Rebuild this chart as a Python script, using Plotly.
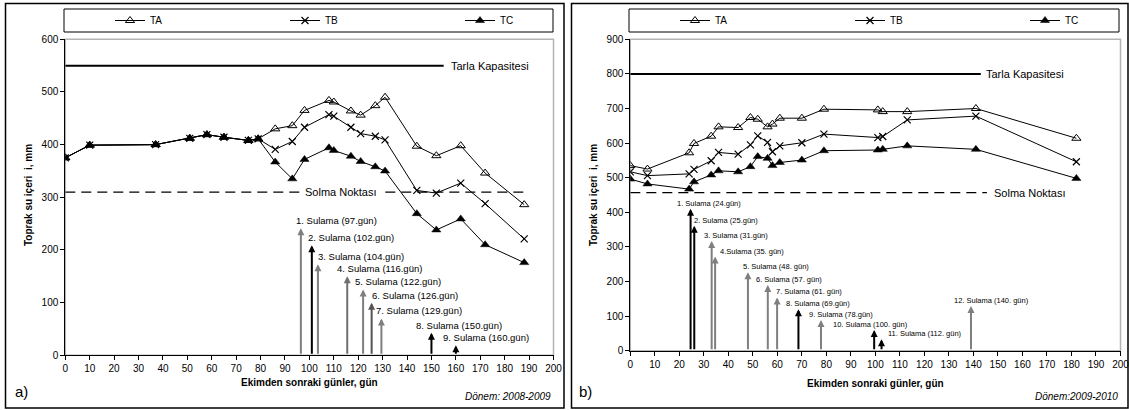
import plotly.graph_objects as go

W, H = 1129, 410

# ---------------- data: panel a) 2008-2009 ----------------
days_a = [0, 10, 37, 51, 58, 65, 75, 79, 86, 93, 98, 108, 110, 117, 121, 127, 131, 144, 152, 162, 172, 188]
ta_a = [375, 399, 400, 412, 419, 414, 408, 411, 430, 436, 465, 484, 481, 464, 456, 474, 490, 397, 379, 398, 346, 286]
tb_a = [375, 399, 400, 412, 419, 414, 408, 411, 391, 406, 433, 457, 454, 433, 421, 416, 409, 313, 308, 327, 288, 221]
tc_a = [375, 399, 400, 412, 419, 414, 408, 411, 367, 335, 372, 394, 389, 378, 368, 358, 350, 269, 238, 259, 210, 176]
tk_a_days = [0, 155]
tk_a = [550, 550]
sn_a_days = [0, 188]
sn_a = [310, 310]
irr_a_days = [96.5, 101, 103.5, 115.5, 122, 125.5, 129.5, 150, 160]
irr_a_top = [241, 209, 173, 150, 125, 100, 70, 43, 19]
irr_a_labels = ["1. Sulama (97.gün)", "2. Sulama (102.gün)", "3. Sulama (104.gün)",
                "4. Sulama (116.gün)", "5. Sulama (122.gün)", "6. Sulama (126.gün)",
                "7. Sulama (129.gün)", "8. Sulama (150.gün)", "9. Sulama (160.gün)"]

# ---------------- data: panel b) 2009-2010 ----------------
days_b = [0, 7, 24, 26, 33, 36, 44, 49, 52, 56, 58, 61, 70, 79, 101, 103, 113, 141, 182]
ta_b = [535, 525, 572, 599, 620, 647, 645, 674, 669, 647, 655, 672, 672, 698, 696, 691, 691, 700, 614]
tb_b = [517, 506, 511, 524, 549, 573, 568, 595, 621, 602, 575, 592, 601, 626, 616, 619, 667, 678, 546]
tc_b = [496, 482, 467, 488, 508, 520, 517, 532, 561, 556, 535, 544, 551, 578, 580, 582, 592, 582, 498]
tk_b_days = [0, 143]
tk_b = [800, 800]
sn_b_days = [0, 145.5]
sn_b = [457, 457]
irr_b_days = [24.6, 26.1, 33.2, 34.6, 48, 56.1, 59.9, 68.6, 77.8, 99.5, 102.5, 139]
irr_b_top = [410, 361, 317, 272, 227, 190, 154, 120, 89, 60, 33, 129]
irr_b_labels = ["1. Sulama (24.gün)", "2. Sulama (25.gün)", "3. Sulama (31.gün)", "4.Sulama (35. gün)",
                "5. Sulama (48. gün)", "6. Sulama (57. gün)", "7. Sulama (61. gün)", "8. Sulama (69.gün)",
                "9. Sulama (78.gün)", "10. Sulama (100. gün)", "11. Sulama (112. gün)", "12. Sulama (140. gün)"]

series_names = ["TA", "TB", "TC"]
x_ticks = list(range(0, 201, 10))

# ---------------- styles ----------------
FONT = "Liberation Sans, Arial, sans-serif"
marker_styles = [
    dict(symbol="triangle-up-open", size=8, color="black", line=dict(width=1, color="black")),
    dict(symbol="x-thin-open", size=7, color="black", line=dict(width=1.2, color="black")),
    dict(symbol="triangle-up", size=8, color="black", line=dict(width=0.5, color="black")),
]
irr_a_colors = ["#7f7f7f", "#000000", "#7f7f7f", "#6f6f6f", "#7f7f7f", "#555555", "#7f7f7f", "#000000", "#000000"]
irr_a_shift = [-7, -6, -2, -12, -10, -2, -7, -17, -15]
irr_b_colors = ["#000000", "#000000", "#7f7f7f", "#7f7f7f", "#7f7f7f", "#7f7f7f", "#7f7f7f", "#000000",
                "#7f7f7f", "#000000", "#000000", "#7f7f7f"]
irr_b_shift = [-16, -2, -10, 3, -7, -14, -3, -14, -14, -43, 4, -19]

fig = go.Figure()

def add_panel(xa, ya, legend, days, vals_list, tk_d, tk_v, sn_d, sn_v):
    for name, vals, ms in zip(series_names, vals_list, marker_styles):
        fig.add_trace(go.Scatter(x=days, y=vals, name=name, mode="lines+markers",
                                 line=dict(color="black", width=1), marker=ms,
                                 xaxis=xa, yaxis=ya, legend=legend, showlegend=True,
                                 hoverinfo="skip"))
    fig.add_trace(go.Scatter(x=tk_d, y=tk_v, mode="lines", line=dict(color="black", width=2),
                             xaxis=xa, yaxis=ya, showlegend=False, hoverinfo="skip"))
    fig.add_trace(go.Scatter(x=sn_d, y=sn_v, mode="lines", line=dict(color="black", width=1.3, dash="10px,6px"),
                             xaxis=xa, yaxis=ya, showlegend=False, hoverinfo="skip"))

add_panel("x", "y", "legend", days_a, [ta_a, tb_a, tc_a], tk_a_days, tk_a, sn_a_days, sn_a)
add_panel("x2", "y2", "legend2", days_b, [ta_b, tb_b, tc_b], tk_b_days, tk_b, sn_b_days, sn_b)

annotations = []

def add_irr(xref, yref, days, tops, labels, colors, shifts, fsize, yshift):
    for d, t, lab, c, s in zip(days, tops, labels, colors, shifts):
        annotations.append(dict(x=d, y=t, ax=d, ay=0, xref=xref, yref=yref, axref=xref, ayref=yref,
                                text="", showarrow=True, arrowhead=2, arrowsize=0.7, arrowwidth=2,
                                arrowcolor=c, standoff=0, startstandoff=0))
        annotations.append(dict(x=d, y=t, xref=xref, yref=yref, text=lab, showarrow=False,
                                xanchor="left", yanchor="bottom", xshift=s, yshift=yshift,
                                font=dict(size=fsize, color="black", family=FONT)))

add_irr("x", "y", irr_a_days, irr_a_top, irr_a_labels, irr_a_colors, irr_a_shift, 9.5, 0)
add_irr("x2", "y2", irr_b_days, irr_b_top, irr_b_labels, irr_b_colors, irr_b_shift, 7.5, -1)

# reference line labels
annotations += [
    dict(x=tk_a_days[1], y=tk_a[0], xref="x", yref="y", text="Tarla Kapasitesi", showarrow=False,
         xanchor="left", yanchor="middle", xshift=5, font=dict(size=11, family=FONT, color="black")),
    dict(x=113, y=sn_a[0], xref="x", yref="y", text="Solma Noktası", showarrow=False,
         xanchor="center", yanchor="middle", bgcolor="white", borderpad=3,
         font=dict(size=11, family=FONT, color="black")),
    dict(x=tk_b_days[1], y=tk_b[0], xref="x2", yref="y2", text="Tarla Kapasitesi", showarrow=False,
         xanchor="left", yanchor="middle", xshift=3, font=dict(size=11, family=FONT, color="black")),
    dict(x=sn_b_days[1], y=sn_b[0], xref="x2", yref="y2", text="Solma Noktası", showarrow=False,
         xanchor="left", yanchor="middle", xshift=5, font=dict(size=11, family=FONT, color="black")),
]

def px(xp):
    return xp / W

def py(yp):
    return 1 - yp / H

ytitle = "Toprak su içeri  i, mm"
xtitle = "Ekimden sonraki günler, gün"

def paper_text(x, y, text, size, xanchor="center", angle=0):
    return dict(x=px(x), y=py(y), xref="paper", yref="paper", text=text, textangle=angle,
                xanchor=xanchor, yanchor="middle", showarrow=False,
                font=dict(size=size, family=FONT, color="black"))

annotations += [
    paper_text(28, 195, "<b>" + ytitle + "</b>", 10, angle=-90),
    paper_text(593, 195, "<b>" + ytitle + "</b>", 10, angle=-90),
    paper_text(309, 382, "<b>" + xtitle + "</b>", 10),
    paper_text(875, 383, "<b>" + xtitle + "</b>", 10),
    paper_text(13, 391, "a)", 15, xanchor="left"),
    paper_text(577, 391, "b)", 15, xanchor="left"),
    paper_text(553, 396, "<i>Dönem: 2008-2009</i>", 10, xanchor="right"),
    paper_text(1120, 396, "<i>Dönem:2009-2010</i>", 10, xanchor="right"),
]

shapes = [
    # panel frames
    dict(type="rect", xref="paper", yref="paper", x0=px(5.5), x1=px(564), y0=py(408), y1=py(3.5),
         line=dict(color="black", width=1.5)),
    dict(type="rect", xref="paper", yref="paper", x0=px(571.5), x1=px(1128), y0=py(408), y1=py(3.5),
         line=dict(color="black", width=1.5)),
    # legend boxes
    dict(type="rect", xref="paper", yref="paper", x0=px(64), x1=px(553), y0=py(32), y1=py(9),
         line=dict(color="black", width=1)),
    dict(type="rect", xref="paper", yref="paper", x0=px(629), x1=px(1119), y0=py(32), y1=py(9),
         line=dict(color="black", width=1)),
    # plot-area borders (gray)
    dict(type="rect", xref="x domain", yref="y domain", x0=0, x1=1, y0=0, y1=1,
         line=dict(color="#b4b4b4", width=1.5), layer="below"),
    dict(type="rect", xref="x2 domain", yref="y2 domain", x0=0, x1=1, y0=0, y1=1,
         line=dict(color="#b4b4b4", width=1.5), layer="below"),
]

axis_common = dict(showgrid=False, zeroline=False, showline=True, linecolor="black", linewidth=1,
                   ticks="outside", ticklen=4, tickcolor="black", automargin=False, tickangle=0,
                   ticklabeloverflow="allow", tickfont=dict(size=10, family=FONT, color="black"))

legend_common = dict(orientation="h", yanchor="middle", y=py(20.5), xanchor="left",
                     bgcolor="rgba(0,0,0,0)", borderwidth=0, entrywidth=130, entrywidthmode="pixels",
                     font=dict(size=10, family=FONT, color="black"), itemclick=False, tracegroupgap=0)

fig.update_layout(
    width=W, height=H, margin=dict(l=0, r=0, t=0, b=0, pad=0, autoexpand=False),
    paper_bgcolor="white", plot_bgcolor="white",
    font=dict(family=FONT, color="black"),
    xaxis=dict(domain=[px(65.3), px(553.5)], range=[0, 200], tickvals=x_ticks, anchor="y", **axis_common),
    yaxis=dict(domain=[py(355.3), py(39.3)], range=[0, 600], dtick=100, anchor="x", **axis_common),
    xaxis2=dict(domain=[px(630.3), px(1120.5)], range=[0, 200], tickvals=x_ticks, anchor="y2", **axis_common),
    yaxis2=dict(domain=[py(350.7), py(39.3)], range=[0, 900], dtick=100, anchor="x2", **axis_common),
    legend=dict(x=px(110), **legend_common),
    legend2=dict(x=px(675), **legend_common),
    annotations=annotations,
    shapes=shapes,
    hovermode=False,
)

fig.write_html("out.html", config={"displayModeBar": False, "staticPlot": True},
               post_script="document.body.style.margin='0';document.body.style.padding='0';")
